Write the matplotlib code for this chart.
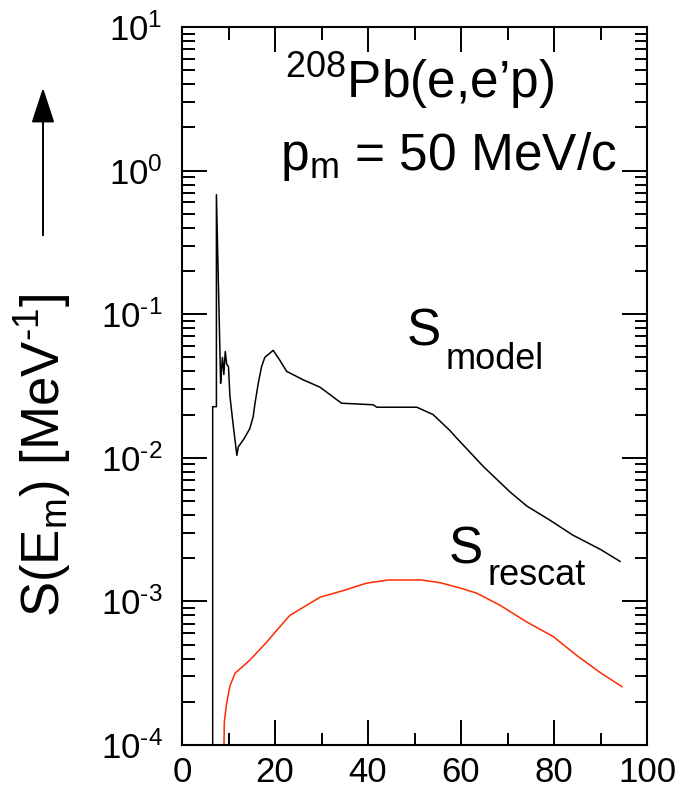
import matplotlib
matplotlib.use("Agg")
import matplotlib.pyplot as plt
from matplotlib.ticker import LogLocator, MultipleLocator, NullFormatter, FuncFormatter
import numpy as np

# ----------------------------------------------------------------------
# Data
# ----------------------------------------------------------------------
model_em = [6.6, 6.6, 7.4, 7.4, 8.3, 8.3, 8.7, 9.0, 9.3, 9.6, 10.0, 10.3,
            11.0, 11.8, 12.1, 13.3, 14.6, 15.3, 15.7, 16.4, 17.1, 17.8,
            19.6, 21.0, 22.5, 26.0, 29.7, 34.3, 41.1, 41.9, 50.5, 54.0,
            57.6, 59.0, 64.8, 70.5, 74.2, 79.0, 84.0, 90.0, 94.2]
model_s = [1e-5, 0.0227, 0.0227, 0.68, 0.034, 0.033, 0.050, 0.038, 0.055,
           0.045, 0.043, 0.027, 0.017, 0.0104, 0.0119, 0.0135, 0.016,
           0.0193, 0.024, 0.033, 0.043, 0.050, 0.056, 0.048, 0.040, 0.035,
           0.031, 0.024, 0.0234, 0.0225, 0.0225, 0.020, 0.0155, 0.0138,
           0.0087, 0.0058, 0.0046, 0.0037, 0.0029, 0.0023, 0.0019]

rescat_em = [8.9, 9.1, 9.6, 10.3, 11.4, 14.6, 18.2, 20.4, 23.2, 26.1, 29.7,
             34.7, 39.7, 44.4, 51.5, 55.5, 59.8, 63.4, 68.4, 74.1, 79.8,
             84.9, 89.9, 94.6]
rescat_s = [5e-5, 1.45e-4, 1.95e-4, 2.57e-4, 3.16e-4, 3.9e-4, 5.2e-4, 6.3e-4,
            8.0e-4, 9.1e-4, 1.07e-3, 1.19e-3, 1.34e-3, 1.41e-3, 1.41e-3,
            1.35e-3, 1.24e-3, 1.14e-3, 9.4e-4, 7.2e-4, 5.7e-4, 4.2e-4,
            3.2e-4, 2.55e-4]

# ----------------------------------------------------------------------
# Style
# ----------------------------------------------------------------------
FONT = "Liberation Sans"
HYPHEN = "\u2010"
plt.rcParams.update({
    "font.family": FONT,
    "mathtext.fontset": "custom",
    "mathtext.rm": FONT,
    "mathtext.it": FONT,
    "mathtext.bf": FONT,
    "mathtext.sf": FONT,
})


def decade_label(v, pos):
    e = int(round(np.log10(v)))
    sign = HYPHEN if e < 0 else ""
    return r"10$^{\rm %s%d}$" % (sign, abs(e))


W, H = 683, 795
fig = plt.figure(figsize=(W / 100, H / 100), dpi=100)
ax = fig.add_axes([182 / W, 1 - 745 / H, (647 - 182) / W, (745 - 27) / H])

ax.plot(model_em, model_s, color="black", lw=1.1)
ax.plot(rescat_em, rescat_s, color="#ff2a00", lw=1.1)

ax.set_yscale("log")
ax.set_xlim(0, 100)
ax.set_ylim(1e-4, 10)

ax.xaxis.set_major_locator(MultipleLocator(20))
ax.xaxis.set_minor_locator(MultipleLocator(10))
ax.yaxis.set_major_locator(LogLocator(base=10, numticks=10))
ax.yaxis.set_major_formatter(FuncFormatter(decade_label))
ax.yaxis.set_minor_locator(LogLocator(base=10, subs=range(2, 10), numticks=20))
ax.yaxis.set_minor_formatter(NullFormatter())

for s in ax.spines.values():
    s.set_linewidth(1.5)
ax.tick_params(which="both", direction="in", top=True, right=True, width=1.4)
ax.tick_params(which="major", length=18)
ax.tick_params(which="minor", length=9)
ax.tick_params(axis="x", which="major", labelsize=25, pad=8)
ax.tick_params(axis="y", which="major", labelsize=25, pad=14)

# ----------------------------------------------------------------------
# Annotations
# ----------------------------------------------------------------------
fig.text(420 / W, 1 - 98 / H, r"$^{208}$Pb(e,e’p)", fontsize=37,
         ha="center", va="baseline")
fig.text(617 / W, 1 - 170 / H, r"p$_{\rm m}$ = 50 MeV/c", fontsize=37,
         ha="right", va="baseline")

fig.text(407 / W, 1 - 345 / H, "S", fontsize=37, ha="left", va="baseline")
fig.text(446 / W, 1 - 369 / H, "model", fontsize=26, ha="left", va="baseline")
fig.text(449 / W, 1 - 563 / H, "S", fontsize=37, ha="left", va="baseline")
fig.text(487 / W, 1 - 585 / H, "rescat", fontsize=26, ha="left", va="baseline")

fig.text(43 / W, 1 - 455 / H, r"S(E$_{\rm m}$) [MeV$^{\rm %s1}$]" % HYPHEN,
         fontsize=38, rotation=90, ha="center", va="center")
fig.add_artist(matplotlib.patches.FancyArrowPatch(
    (43 / W, 1 - 238 / H), (43 / W, 1 - 85 / H), transform=fig.transFigure,
    arrowstyle="-|>,head_length=1.1,head_width=0.36", mutation_scale=20,
    lw=1.4, color="black"))

fig.savefig("out.png", dpi=100, facecolor="white")
